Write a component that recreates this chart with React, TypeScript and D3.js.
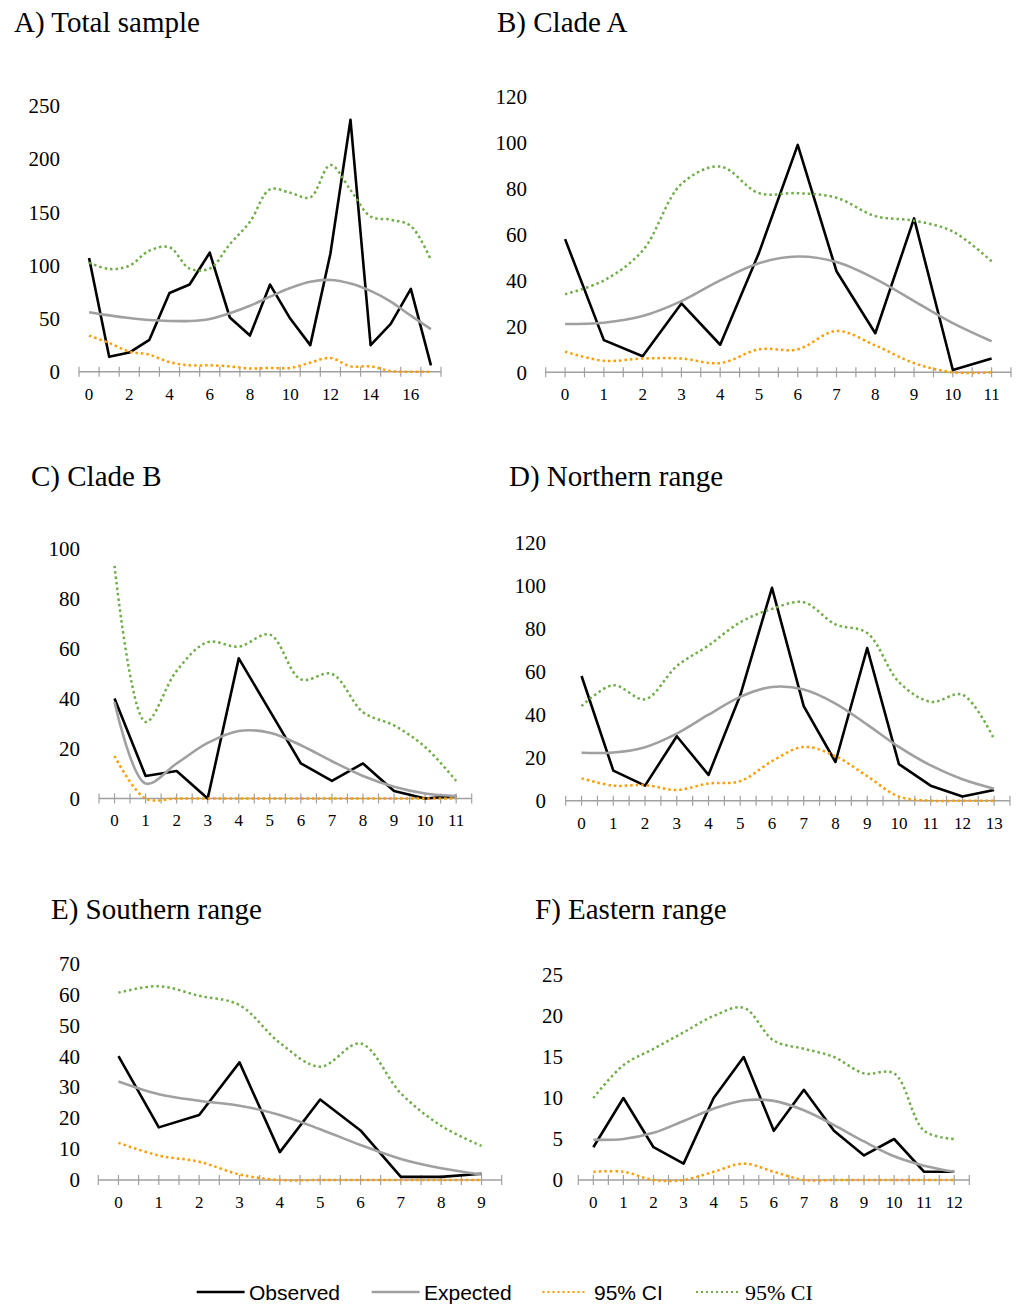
import React from 'react'
import * as d3 from 'd3'

// categories (number of ... per class)
const catsA = [0, 1, 2, 3, 4, 5, 6, 7, 8, 9, 10, 11, 12, 13, 14, 15, 16, 17]
const catsB = [0, 1, 2, 3, 4, 5, 6, 7, 8, 9, 10, 11]
const catsC = [0, 1, 2, 3, 4, 5, 6, 7, 8, 9, 10, 11]
const catsD = [0, 1, 2, 3, 4, 5, 6, 7, 8, 9, 10, 11, 12, 13]
const catsE = [0, 1, 2, 3, 4, 5, 6, 7, 8, 9]
const catsF = [0, 1, 2, 3, 4, 5, 6, 7, 8, 9, 10, 11, 12]

// A) Total sample
const obsA = [107, 14, 18, 30, 74, 82, 112, 51, 34, 82, 50, 25, 111, 237, 25, 45, 78, 6]
const expA = [56, 53, 50.5, 48.6, 47.7, 47.7, 49.6, 55, 62, 70.6, 78.7, 84.7, 86.3, 83, 76, 66, 52.7, 40]
const loA = [34, 27, 19, 16, 9, 6, 6, 5, 3, 3.5, 3.5, 8.5, 13, 5, 5, 0.6, 0, 0]
const hiA = [102.6, 96.6, 99.7, 113.9, 117, 97, 97, 120, 141, 171.6, 168.4, 164, 194.5, 171, 146, 143, 137, 105]

// B) Clade A
const obsB = [58, 14, 7, 30, 12, 52, 99, 44, 17, 67, 1, 6]
const expB = [21, 21.6, 24.5, 31, 40, 47.5, 50.4, 48, 40.7, 31, 21.4, 13.5]
const loB = [9, 5, 6, 6, 4, 10, 10, 18, 11.7, 4, 0, 0]
const hiB = [34, 40, 53, 82, 89.6, 78, 78, 76, 68, 66, 61.3, 48.3]

// C) Clade B
const obsC = [40, 9, 11, 0, 56, 35, 14, 7, 14, 3, 0, 1]
const expC = [38.5, 6, 14, 22.2, 27, 26.3, 21.3, 14.9, 9, 4.7, 2, 1]
const loC = [17, 0, 0, 0, 0, 0, 0, 0, 0, 0, 0, 0]
const hiC = [93, 30.6, 51, 62.5, 60.7, 65.5, 47.6, 49.8, 34.5, 29.2, 20.6, 7]

// D) Northern range
const obsD = [58, 14, 7, 30, 12, 49, 99, 44, 18, 71, 17, 7, 2, 5]
const expD = [22.3, 22.4, 24.9, 31.2, 40, 48.3, 52.9, 51.7, 45.2, 35.4, 25, 16.4, 10, 5.6]
const loD = [10.4, 7, 7.3, 5, 8, 9.1, 18.4, 25, 20.7, 11.4, 1.9, 0, 0, 0]
const hiD = [44, 53.7, 47.2, 62.6, 72.2, 83, 89.2, 92.3, 82, 78, 55.2, 46, 49.3, 28.6]

// E) Southern range
const obsE = [40, 17, 21, 38, 9, 26, 16, 1, 1, 2]
const expE = [31.8, 27.7, 25.6, 24, 21, 16.4, 11.3, 6.8, 3.8, 1.8]
const loE = [12, 7.9, 5.9, 1.8, 0, 0, 0, 0, 0, 0]
const hiE = [60.5, 62.6, 59.5, 56.5, 44.3, 36.6, 44.1, 28, 17.5, 11]

// F) Eastern range
const obsF = [4, 10, 4, 2, 10, 15, 6, 11, 6, 3, 5, 1, 1]
const expF = [4.9, 5, 5.75, 7.2, 8.7, 9.7, 9.65, 8.5, 6.7, 4.7, 2.9, 1.75, 1]
const loF = [1, 1, 0, 0, 1, 2, 1, 0, 0, 0, 0, 0, 0]
const hiF = [10, 14, 16, 18, 20, 21, 17, 16, 15, 13, 13, 6, 5]

const ticksA = [0, 50, 100, 150, 200, 250]
const ticksB = [0, 20, 40, 60, 80, 100, 120]
const ticksC = [0, 20, 40, 60, 80, 100]
const ticksD = [0, 20, 40, 60, 80, 100, 120]
const ticksE = [0, 10, 20, 30, 40, 50, 60, 70]
const ticksF = [0, 5, 10, 15, 20, 25]

const titles = ['A) Total sample', 'B) Clade A', 'C) Clade B', 'D) Northern range', 'E) Southern range', 'F) Eastern range']

const BLACK = '#000000'
const GREY = '#a0a0a0'
const ORANGE = '#ff9c00'
const GREEN = '#70ad47'
const SERIF = '"Liberation Serif", "Times New Roman", serif'
const SANS = '"Liberation Sans", Arial, sans-serif'

const panels = [
  { title: titles[0], tx: 14, ty: 32, cats: catsA, obs: obsA, exp: expA, lo: loA, hi: hiA, ticks: ticksA,
    x0: 79, x1: 441, y0: 371.7, yTop: 106, labelRight: 60, every: 2, halfTicks: false },
  { title: titles[1], tx: 497, ty: 32, cats: catsB, obs: obsB, exp: expB, lo: loB, hi: hiB, ticks: ticksB,
    x0: 545.7, x1: 1011, y0: 372.3, yTop: 96.7, labelRight: 527, every: 1, halfTicks: true },
  { title: titles[2], tx: 31, ty: 486, cats: catsC, obs: obsC, exp: expC, lo: loC, hi: hiC, ticks: ticksC,
    x0: 99, x1: 471.7, y0: 798.5, yTop: 548.3, labelRight: 80, every: 1, halfTicks: true },
  { title: titles[3], tx: 509, ty: 486, cats: catsD, obs: obsD, exp: expD, lo: loD, hi: hiD, ticks: ticksD,
    x0: 565.7, x1: 1010, y0: 800.7, yTop: 542.7, labelRight: 546, every: 1, halfTicks: true },
  { title: titles[4], tx: 51, ty: 919, cats: catsE, obs: obsE, exp: expE, lo: loE, hi: hiE, ticks: ticksE,
    x0: 98.3, x1: 501.7, y0: 1180, yTop: 963.3, labelRight: 80, every: 1, halfTicks: true },
  { title: titles[5], tx: 535, ty: 919, cats: catsF, obs: obsF, exp: expF, lo: loF, hi: hiF, ticks: ticksF,
    x0: 578.3, x1: 969.3, y0: 1180, yTop: 975, labelRight: 563, every: 1, halfTicks: true },
]

const Panel = ({ p }) => {
  const x = d3.scaleBand().domain(p.cats.map(String)).range([p.x0, p.x1]).padding(0)
  const bw = x.bandwidth()
  const cx = (c) => x(String(c)) + bw / 2
  const y = d3.scaleLinear().domain([0, p.ticks[p.ticks.length - 1]]).range([p.y0, p.yTop])

  const straight = d3.line().x((d, i) => cx(p.cats[i])).y(d => y(d))
  const smooth = d3.line().x((d, i) => cx(p.cats[i])).y(d => y(d)).curve(d3.curveCatmullRom.alpha(0.5))

  const step = p.halfTicks ? bw / 2 : bw
  const nTicks = Math.round((p.x1 - p.x0) / step)
  const tickXs = d3.range(nTicks + 1).map(i => p.x0 + i * step)

  return (
    <g>
      <text x={p.tx} y={p.ty} fontFamily={SERIF} fontSize={29} fill="#000">{p.title}</text>
      {p.ticks.map(t => (
        <text key={t} x={p.labelRight} y={y(t)} dy="0.35em" textAnchor="end"
          fontFamily={SERIF} fontSize={21} fill="#000">{t}</text>
      ))}
      <line x1={p.x0} x2={p.x1} y1={p.y0} y2={p.y0} stroke={GREY} strokeWidth={1.5} />
      {tickXs.map((tx, i) => (
        <line key={i} x1={tx} x2={tx} y1={p.y0 - 5} y2={p.y0 + 5} stroke={GREY} strokeWidth={1.2} />
      ))}
      {p.cats.filter((c, i) => i % p.every === 0).map(c => (
        <text key={c} x={cx(c)} y={p.y0 + 22} dy="0.35em" textAnchor="middle"
          fontFamily={SERIF} fontSize={17} fill="#000">{c}</text>
      ))}
      <path d={straight(p.obs)} fill="none" stroke={BLACK} strokeWidth={2.6} strokeLinejoin="round" />
      <path d={smooth(p.exp)} fill="none" stroke={GREY} strokeWidth={2.6} />
      <path d={smooth(p.lo)} fill="none" stroke={ORANGE} strokeWidth={2.5} strokeDasharray="2.5 3" />
      <path d={smooth(p.hi)} fill="none" stroke={GREEN} strokeWidth={2.5} strokeDasharray="2.5 3" />
    </g>
  )
}

const legendItems = [
  { label: 'Observed', color: BLACK, dash: null, x1: 196.7, x2: 244.6, tx: 249, font: SANS },
  { label: 'Expected', color: GREY, dash: null, x1: 371.7, x2: 419.6, tx: 424, font: SANS },
  { label: '95% CI', color: ORANGE, dash: '2 3', x1: 542.5, x2: 586, tx: 594, font: SANS },
  { label: '95% CI', color: GREEN, dash: '2 3', x1: 696, x2: 738, tx: 745, font: SERIF },
]

export default function App() {
  return (
    <div style={{ position: 'absolute', left: 0, top: 0 }}>
      <svg width={1020} height={1304} style={{ display: 'block', background: '#fff' }}>
        <rect width={1020} height={1304} fill="#fff" />
        {panels.map((p, i) => <Panel key={i} p={p} />)}
        {legendItems.map((l, i) => (
          <g key={i}>
            <line x1={l.x1} x2={l.x2} y1={1292} y2={1292} stroke={l.color}
              strokeWidth={l.dash ? 2 : 2.5} strokeDasharray={l.dash || undefined} />
            <text x={l.tx} y={1300} fontFamily={l.font} fontSize={l.font === SERIF ? 22 : 21} fill="#000">{l.label}</text>
          </g>
        ))}
      </svg>
    </div>
  )
}
